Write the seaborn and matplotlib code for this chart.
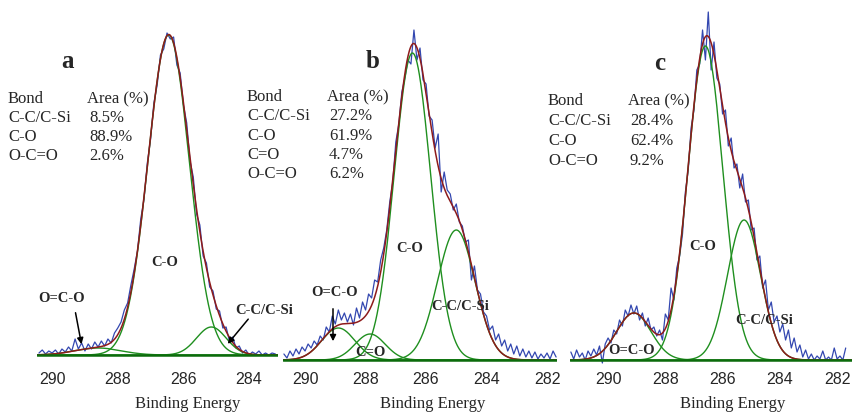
import numpy as np
import matplotlib
matplotlib.use("Agg")
import matplotlib.pyplot as plt
import seaborn as sns

# ---- panel a : C1s spectrum, fitted components ----
a_start = 290.4          # first energy of the measured trace, step 0.1 eV
a_counts = [2, 5, 1, 4, 2, 5, 1, 6, 3, 8,
            4, 16, 6, 12, 4, 11, 6, 13, 8, 14,
            9, 16, 12, 22, 27, 33, 45, 52, 70, 86,
            104, 136, 156, 192, 216, 252, 270, 300, 306, 322,
            316, 318, 290, 282, 250, 232, 194, 178, 141, 130,
            99, 92, 68, 64, 46, 44, 27, 28, 14, 18,
            7, 9, 2, 5, 0, 3, 1, 4, 0, 2,
            0, 2, 1]
a_centers = [286.45, 285.15, 288.6]
a_heights = [320, 28, 7]
a_sigmas = [0.63, 0.45, 0.7]
a_bonds = ["C-C/C-Si", "C-O", "O-C=O"]
a_areas = ["8.5%", "88.9%", "2.6%"]

# ---- panel b ----
b_start = 290.7
b_counts = [6, 2, 9, 4, 11, 6, 13, 9, 16, 12,
            19, 15, 24, 20, 33, 28, 44, 36, 50, 40,
            47, 38, 46, 35, 52, 42, 58, 50, 66, 62,
            80, 78, 100, 112, 130, 158, 178, 218, 236, 268,
            282, 300, 296, 330, 300, 312, 280, 276, 244, 240,
            212, 226, 168, 188, 170, 166, 150, 156, 138, 134,
            118, 120, 80, 94, 70, 66, 48, 44, 30, 34,
            20, 26, 14, 20, 9, 16, 6, 14, 4, 11,
            3, 9, 2, 8, 1, 6, 2, 7, 1, 9,
            3]
b_centers = [286.45, 285.0, 288.9, 287.85]
b_heights = [307, 130, 32, 26]
b_sigmas = [0.6, 0.62, 0.55, 0.5]
b_bonds = ["C-C/C-Si", "C-O", "C=O", "O-C=O"]
b_areas = ["27.2%", "61.9%", "4.7%", "6.2%"]

# ---- panel c ----
c_start = 291.3
c_counts = [8, 1, 10, 3, 7, 0, 9, 4, 11, 5,
            14, -3, 16, 22, 17, 30, 26, 40, 34, 50,
            44, 55, 46, 54, 40, 47, 34, 42, 30, 33,
            24, 30, 20, 46, 40, 72, 60, 92, 104, 126,
            168, 190, 232, 250, 290, 296, 330, 300, 348, 290,
            318, 282, 276, 246, 250, 214, 222, 192, 196, 172,
            186, 158, 160, 130, 132, 100, 104, 72, 80, 50,
            58, 38, 44, 28, 36, 20, 30, 12, 22, 8,
            15, 3, 10, 1, 6, 0, 4, 1, 9, 0,
            3, 0, 12, 1, 4, 0, 12]
c_centers = [286.6, 285.25, 289.1]
c_heights = [314, 140, 47]
c_sigmas = [0.61, 0.58, 0.6]
c_bonds = ["C-C/C-Si", "C-O", "O-C=O"]
c_areas = ["28.4%", "62.4%", "9.2%"]

BLUE = "#3347b0"
RED = "#8e1b1b"
GREEN = "#1f8f1f"
BASE = "#0b6b0b"
W, H = 852, 416


def gauss(x, c, h, s):
    return h * np.exp(-0.5 * ((x - c) / s) ** 2)


sns.set_theme(style="white")
plt.rcParams['font.family'] = ['Liberation Serif', 'DejaVu Serif']

fig = plt.figure(figsize=(W / 100, H / 100), dpi=100)


def px_axes(left, right, bottom):
    return fig.add_axes([left / W, 1 - bottom / H, (right - left) / W, bottom / H])


def ftext(x, y, s, **kw):
    fig.text(x / W, 1 - y / H, s, **kw)


def arrow(x1, y1, x2, y2):
    fig.add_artist(matplotlib.patches.FancyArrowPatch(
        (x1 / W, 1 - y1 / H), (x2 / W, 1 - y2 / H), transform=fig.transFigure,
        arrowstyle='-|>', mutation_scale=9, color='black', lw=1.1))


panels = [
    dict(start=a_start, counts=a_counts, centers=a_centers, heights=a_heights, sigmas=a_sigmas,
         left=37, right=278, base=355, xlim=(290.46, 283.12), ticks=[290, 288, 286, 284],
         pad=9.0, label_x=188, letter="a", letter_xy=(67, 62),
         bonds=a_bonds, areas=a_areas, tab_x=(8, 87), tab_y=99, row=19),
    dict(start=b_start, counts=b_counts, centers=b_centers, heights=b_heights, sigmas=b_sigmas,
         left=283, right=557, base=360, xlim=(290.73, 281.67), ticks=[290, 288, 286, 284, 282],
         pad=5.0, label_x=433, letter="b", letter_xy=(373, 62),
         bonds=b_bonds, areas=b_areas, tab_x=(247, 327), tab_y=97, row=19.3),
    dict(start=c_start, counts=c_counts, centers=c_centers, heights=c_heights, sigmas=c_sigmas,
         left=570, right=852, base=360, xlim=(291.33, 281.48), ticks=[290, 288, 286, 284, 282],
         pad=5.0, label_x=733, letter="c", letter_xy=(660, 64),
         bonds=c_bonds, areas=c_areas, tab_x=(548, 628), tab_y=101, row=20),
]

for p in panels:
    ax = px_axes(p["left"], p["right"], p["base"] + 5)
    energy = np.round(p["start"] - 0.1 * np.arange(len(p["counts"])), 2)
    grid = np.linspace(p["xlim"][0], p["xlim"][1], 700)
    comps = [gauss(grid, c, h, s) for c, h, s in zip(p["centers"], p["heights"], p["sigmas"])]

    sns.lineplot(x=energy, y=p["counts"], ax=ax, color=BLUE, lw=0.9, estimator=None)
    for comp in comps:
        sns.lineplot(x=grid, y=comp, ax=ax, color=GREEN, lw=1.0, estimator=None)
    sns.lineplot(x=grid, y=np.sum(comps, axis=0), ax=ax, color=RED, lw=1.1, estimator=None)
    ax.axhline(0, color=BASE, lw=1.8)

    ax.set_xlim(*p["xlim"])
    ax.set_ylim(-5, p["base"])
    ax.set_yticks([])
    ax.set_xticks(p["ticks"])
    ax.set_xticklabels([str(t) for t in p["ticks"]], fontfamily='Liberation Sans', fontsize=11.5)
    ax.tick_params(axis='x', length=0, pad=p["pad"])
    ax.set_facecolor('none')
    sns.despine(ax=ax, left=True, bottom=True)
    ax.set_xlabel("Binding Energy", fontsize=12)
    axh = p["base"] + 5
    ax.xaxis.set_label_coords((p["label_x"] - p["left"]) / (p["right"] - p["left"]),
                              -(404 - axh) / axh)
    ax.xaxis.label.set_va('center')

    ftext(*p["letter_xy"], p["letter"], fontsize=18, fontweight='bold', ha='center', va='center')
    tx0, tx1 = p["tab_x"]
    ftext(tx0, p["tab_y"], "Bond", fontsize=12, va='center')
    ftext(tx1, p["tab_y"], "Area (%)", fontsize=12, va='center')
    for i, (bond, area) in enumerate(zip(p["bonds"], p["areas"])):
        yy = p["tab_y"] + p["row"] * (i + 1)
        ftext(tx0, yy, bond, fontsize=12, va='center')
        ftext(tx1 + 2, yy, area, fontsize=12, va='center')

# peak labels
lab = dict(fontsize=10.5, fontweight='bold', ha='center', va='center')
ftext(165, 262, "C-O", **lab)
ftext(62, 299, "O=C-O", **lab)
ftext(264, 310, "C-C/C-Si", **lab)
arrow(75, 310, 82, 347)
arrow(250, 317, 226, 346)

ftext(410, 249, "C-O", **lab)
ftext(335, 293, "O=C-O", **lab)
ftext(370, 353, "C=O", **lab)
ftext(460, 306, "C-C/C-Si", **lab)
arrow(333, 306, 333, 344)

ftext(703, 247, "C-O", **lab)
ftext(632, 350, "O=C-O", **lab)
ftext(764, 321, "C-C/C-Si", **lab)

fig.savefig("out.png", dpi=100)
